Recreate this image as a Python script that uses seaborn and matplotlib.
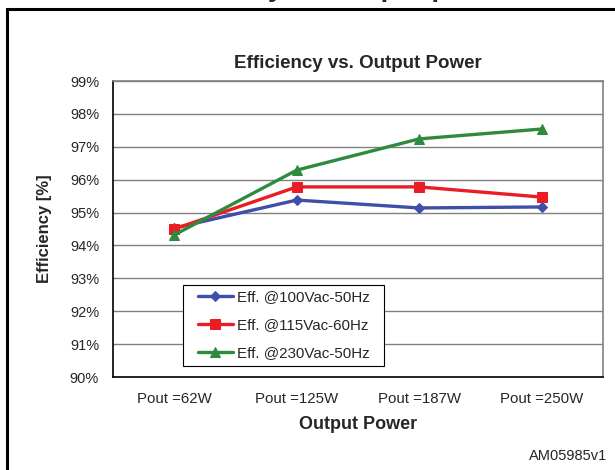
import pandas as pd
import matplotlib.pyplot as plt
import seaborn as sns
from matplotlib.patches import Rectangle

sns.set_style("white")
plt.rcParams["font.family"] = ["Liberation Sans", "DejaVu Sans"]

CATEGORIES = ["Pout =62W", "Pout =125W", "Pout =187W", "Pout =250W"]
SERIES = ["Eff. @100Vac-50Hz", "Eff. @115Vac-60Hz", "Eff. @230Vac-50Hz"]
EFF_100 = [94.53, 95.38, 95.14, 95.17]
EFF_115 = [94.50, 95.78, 95.78, 95.47]
EFF_230 = [94.32, 96.29, 97.24, 97.54]
Y_TICKS = [90, 91, 92, 93, 94, 95, 96, 97, 98, 99]

COLORS = {SERIES[0]: "#3F4FA8", SERIES[1]: "#EC1C24", SERIES[2]: "#2E8B3E"}
MARKERS = {SERIES[0]: "D", SERIES[1]: "s", SERIES[2]: "^"}
MSIZE = {SERIES[0]: 5, SERIES[1]: 6.5, SERIES[2]: 7.5}

rows = []
for name, vals in zip(SERIES, [EFF_100, EFF_115, EFF_230]):
    for i, v in enumerate(vals):
        rows.append({"pos": i, "cat": CATEGORIES[i], "series": name, "eff": v})
df = pd.DataFrame(rows)

W, H = 615, 470
fig = plt.figure(figsize=(6.15, 4.7), dpi=100)
ax = fig.add_axes([113 / W, 1 - 377 / H, 490 / W, 296 / H])

# outer frame (runs off the right/bottom edges)
fig.patches.append(Rectangle((7 / W, -0.1), 1.2, (1 - 9 / H) + 0.1,
                             transform=fig.transFigure, fill=False,
                             edgecolor="black", linewidth=2.2, zorder=0))
# page title, almost entirely above the picture (only descenders show)
fig.text(333 / W, 1 + 3.5 / H, "Efficiency vs. output power", ha="center",
         va="baseline", fontsize=20, fontweight="bold")

for y in Y_TICKS:
    ax.axhline(y, color="#808080", linewidth=1.0, zorder=0)

for name in SERIES:
    sub = df[df["series"] == name]
    sns.lineplot(data=sub, x="pos", y="eff", ax=ax, color=COLORS[name],
                 marker=MARKERS[name], markersize=MSIZE[name],
                 markeredgecolor=COLORS[name], linewidth=2.4, label=name)

ax.set_xlim(-0.5, len(CATEGORIES) - 0.5)
ax.set_ylim(90, 99)
ax.set_yticks(Y_TICKS)
ax.set_yticklabels([f"{t}%" for t in Y_TICKS], fontsize=10.5)
ax.set_xticks(range(len(CATEGORIES)))
ax.set_xticklabels(CATEGORIES, fontsize=10.8)
ax.set_xticks([i - 0.5 for i in range(len(CATEGORIES) + 1)], minor=True)
ax.tick_params(axis="x", which="major", length=0, pad=11)
ax.tick_params(axis="x", which="minor", length=5, direction="out", width=0.8)
ax.tick_params(axis="y", length=5, direction="out", width=0.8, pad=5)

for side in ["left", "bottom"]:
    ax.spines[side].set_color("black")
    ax.spines[side].set_linewidth(1.2)
for side in ["top", "right"]:
    ax.spines[side].set_color("#808080")
    ax.spines[side].set_linewidth(1.2)

ax.set_title("Efficiency vs. Output Power", fontsize=13.5, fontweight="bold", pad=9)
ax.set_xlabel("Output Power", fontsize=13, fontweight="bold", labelpad=7)
ax.set_ylabel("Efficiency [%]", fontsize=12, fontweight="bold", labelpad=13)

# legend without its own frame; box drawn separately for wider side padding
leg = ax.legend(loc="upper left", bbox_to_anchor=((198 - 113) / 490, (377 - 290) / 296),
                fontsize=10.9, frameon=False, borderpad=0, borderaxespad=0,
                handlelength=2.3, handletextpad=0.27, labelspacing=0.92)
ax.add_patch(Rectangle(((183 - 113) / 490, (377 - 366) / 296), (384 - 183) / 490,
                       (366 - 285) / 296, transform=ax.transAxes, fill=True,
                       facecolor="white", edgecolor="black", linewidth=0.8, zorder=4))
leg.set_zorder(5)

fig.text(607 / W, 1 - 456 / H, "AM05985v1", ha="right", va="center", fontsize=10.5)

fig.savefig("out.png", dpi=100)
